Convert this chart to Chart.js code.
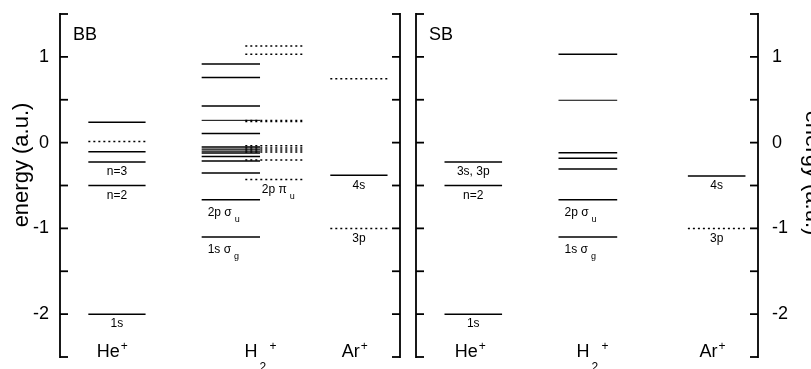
<!DOCTYPE html>
<html><head><meta charset="utf-8">
<script src="https://cdn.jsdelivr.net/npm/chart.js@4/dist/chart.umd.min.js"></script>
<style>
html,body{margin:0;padding:0;background:#fff;width:811px;height:369px;overflow:hidden;}
canvas{position:absolute;top:0;}
#c1{left:0;} #c2{left:408px;}
</style></head><body>
<canvas id="c1" width="408" height="369"></canvas>
<canvas id="c2" width="403" height="369"></canvas>
<script>
// ---- data (energies in a.u.) ----
const species = ['He', 'H', 'Ar'];
const panelNames = ['BB', 'SB'];
const axisTitle = 'energy (a.u.)';

// BB panel
const bbHeSolid  = [0.237, -0.105, -0.226, -0.5, -2.0];
const bbHeDotted = [0.012];
const bbH2Solid  = [0.917, 0.759, 0.427, 0.105, -0.163, -0.215, -0.355, -0.665, -1.10];
const bbH2SolidThin = [0.26];
const bbH2SolidCluster = [-0.051, -0.075, -0.098, -0.121];
const bbH2Dotted = [1.128, 1.03, -0.035, -0.063, -0.087, -0.11, -0.203, -0.43];
const bbH2DottedBold = [0.252];
const bbArSolid  = [-0.38];
const bbArDotted = [0.745, -1.0];

// SB panel
const sbHeSolid  = [-0.225, -0.5, -2.0];
const sbH2Solid  = [1.03, -0.117, -0.183, -0.308, -0.665, -1.10];
const sbH2SolidThin = [0.494];
const sbArSolid  = [-0.39];
const sbArDotted = [-1.0];

// level labels: [text, subscript, column, energy]
const bbLabels = [
  ['n=3', '', 'He', -0.226], ['n=2', '', 'He', -0.5], ['1s', '', 'He', -2.0],
  ['2p \u03c3', 'u', 'H2', -0.665], ['1s \u03c3', 'g', 'H2', -1.10],
  ['2p \u03c0', 'u', 'H2dot', -0.43],
  ['4s', '', 'Ar', -0.38], ['3p', '', 'Ar', -1.0]
];
const sbLabels = [
  ['3s, 3p', '', 'He', -0.225], ['n=2', '', 'He', -0.5], ['1s', '', 'He', -2.0],
  ['2p \u03c3', 'u', 'H2', -0.665], ['1s \u03c3', 'g', 'H2', -1.10],
  ['4s', '', 'Ar', -0.39], ['3p', '', 'Ar', -1.0]
];

// ---- layout (x units, 0..6 across each panel) ----
const COLS = { He: [0.5, 1.51], H2: [2.5, 3.53], H2dot: [3.27, 4.29], Ar: [4.77, 5.78] };
const FONT = '"Liberation Sans", Arial, Helvetica, sans-serif';

function lines(values, col, dashed, width) {
  const [x0, x1] = COLS[col];
  return values.map(v => ({
    data: [{x: x0, y: v}, {x: x1, y: v}],
    showLine: true, borderColor: '#000', borderWidth: width,
    borderDash: dashed ? [2, 3] : [], pointRadius: 0, fill: false
  }));
}

function makePlugin(p) {
  return {
    id: 'frame' + p.name,
    afterDraw(chart) {
      const ctx = chart.ctx, a = chart.chartArea, ys = chart.scales.y, xs = chart.scales.x;
      ctx.save();
      ctx.strokeStyle = '#000'; ctx.lineWidth = 1.8; ctx.lineCap = 'butt';
      const tickVals = ys.ticks.map(t => t.value);
      [[a.left, 1], [a.right, -1]].forEach(([sx, dir]) => {
        ctx.beginPath(); ctx.moveTo(sx, a.top - 0.9); ctx.lineTo(sx, a.bottom + 0.9); ctx.stroke();
        tickVals.forEach(v => {
          const py = ys.getPixelForValue(v);
          ctx.beginPath(); ctx.moveTo(sx, py); ctx.lineTo(sx + dir * 8, py); ctx.stroke();
        });
      });
      ctx.fillStyle = '#000';
      // panel name
      ctx.font = '18px ' + FONT; ctx.textAlign = 'left'; ctx.textBaseline = 'alphabetic';
      ctx.fillText(p.name, a.left + 13, 40);
      // level labels
      p.labels.forEach(([txt, sub, col, e]) => {
        const [x0, x1] = COLS[col];
        const py = ys.getPixelForValue(e);
        ctx.font = '12px ' + FONT; ctx.textBaseline = 'middle';
        let tx, ty, w = ctx.measureText(txt).width;
        if (col === 'H2') { tx = xs.getPixelForValue(x0) + 6; ty = py + 13; }
        else { tx = xs.getPixelForValue((x0 + x1) / 2) - w / 2; ty = py + 10; }
        ctx.textAlign = 'left';
        ctx.fillText(txt, tx, ty);
        if (sub) { ctx.font = '9px ' + FONT; ctx.fillText(sub, tx + w + 3, ty + 7); }
      });
      // species labels at bottom
      const by = 357;
      p.species.forEach(([main, sub, sup, xc]) => {
        ctx.font = '18px ' + FONT; ctx.textBaseline = 'alphabetic'; ctx.textAlign = 'left';
        const w = ctx.measureText(main).width;
        const lx = xs.getPixelForValue(xc) - w / 2;
        ctx.fillText(main, lx, by);
        ctx.font = '12px ' + FONT;
        if (sub) { ctx.fillText(sub, lx + w + 2, by + 14); ctx.fillText(sup, lx + w + 12, by - 7); }
        else ctx.fillText(sup, lx + w + 1, by - 7);
      });
      // axis title
      ctx.font = '22px ' + FONT; ctx.textAlign = 'center'; ctx.textBaseline = 'alphabetic';
      ctx.save();
      if (p.side === 'left') { ctx.translate(28, 165); ctx.rotate(-Math.PI / 2); }
      else { ctx.translate(806 - 408, 173); ctx.rotate(Math.PI / 2); }
      ctx.fillText(axisTitle, 0, 0);
      ctx.restore();
      ctx.restore();
    }
  };
}

function makeChart(id, p) {
  return new Chart(document.getElementById(id), {
    type: 'scatter',
    data: { datasets: p.datasets },
    options: {
      responsive: false, animation: false, devicePixelRatio: 1,
      layout: { padding: p.padding },
      plugins: { legend: { display: false }, tooltip: { enabled: false } },
      scales: {
        x: { type: 'linear', min: 0, max: 6, display: false },
        y: {
          type: 'linear', min: -2.5, max: 1.5, position: p.side,
          afterFit(s) { s.width = p.axisWidth; s.paddingTop = 0; s.paddingBottom = 0; },
          grid: { display: false, drawTicks: false }, border: { display: false },
          ticks: {
            stepSize: 0.5, autoSkip: false, color: '#000', padding: p.tickPad,
            font: { size: 18, family: FONT },
            callback: v => Number.isInteger(v) ? String(v) : ''
          }
        }
      }
    },
    plugins: [makePlugin(p)]
  });
}

makeChart('c1', {
  name: panelNames[0], side: 'left', axisWidth: 60, tickPad: 11,
  padding: { top: 14, bottom: 12, left: 0, right: 8 },
  labels: bbLabels,
  species: [['He', '', '+', 0.85], ['H', '2', '+', 3.37], ['Ar', '', '+', 5.13]],
  datasets: [].concat(
    lines(bbHeSolid, 'He', false, 1.5), lines(bbHeDotted, 'He', true, 1.5),
    lines(bbH2Solid, 'H2', false, 1.5), lines(bbH2SolidThin, 'H2', false, 1),
    lines(bbH2SolidCluster, 'H2', false, 1.3),
    lines(bbH2Dotted, 'H2dot', true, 1.5), lines(bbH2DottedBold, 'H2dot', true, 2.5),
    lines(bbArSolid, 'Ar', false, 1.5), lines(bbArDotted, 'Ar', true, 1.5))
});

makeChart('c2', {
  name: panelNames[1], side: 'right', axisWidth: 53, tickPad: 14,
  padding: { top: 14, bottom: 12, left: 8, right: 0 },
  labels: sbLabels,
  species: [['He', '', '+', 0.88], ['H', '2', '+', 2.93], ['Ar', '', '+', 5.13]],
  datasets: [].concat(
    lines(sbHeSolid, 'He', false, 1.5),
    lines(sbH2Solid, 'H2', false, 1.5), lines(sbH2SolidThin, 'H2', false, 1),
    lines(sbArSolid, 'Ar', false, 1.5), lines(sbArDotted, 'Ar', true, 1.5))
});
</script>
</body></html>
